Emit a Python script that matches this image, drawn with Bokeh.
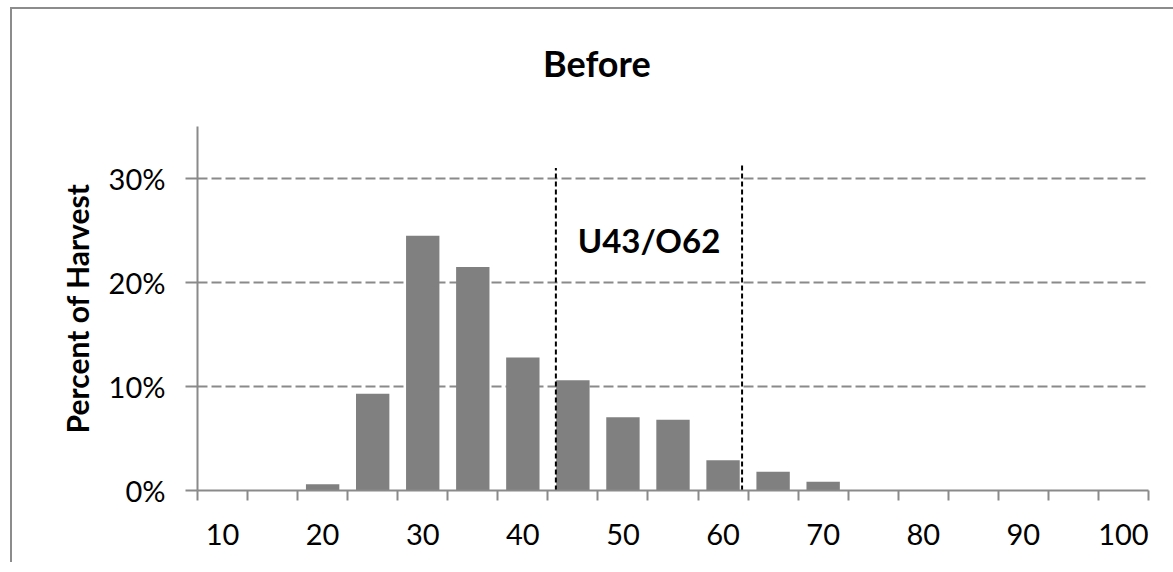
from bokeh.plotting import figure
from bokeh.layouts import column
from bokeh.models import Range1d, FixedTicker, NumeralTickFormatter, Label, Div
from bokeh.embed import file_html
from bokeh.resources import INLINE

# ---- data ----
lengths = [10, 15, 20, 25, 30, 35, 40, 45, 50, 55, 60, 65, 70, 75, 80, 85, 90, 95, 100]
percent = [0.0, 0.0, 0.006, 0.093, 0.245, 0.215, 0.128, 0.106, 0.0705, 0.068, 0.029, 0.018, 0.0085,
           0.0, 0.0, 0.0, 0.0, 0.0, 0.0]
tick_labels = [10, 20, 30, 40, 50, 60, 70, 80, 90, 100]
y_ticks = [0.0, 0.1, 0.2, 0.3]
limit_x = [43.3, 61.9]
limit_top = [0.31, 0.314]
limit_text = "U43/O62"
title_text = "Before"
y_title = "Percent of Harvest"

step = 5
bar_width = step * 2 / 3
boundaries = [v - step / 2 for v in lengths] + [lengths[-1] + step / 2]

GRAY = "#8a8a8a"
FONT = "Lato"

head = Div(text=title_text, width=1153, height=100,
           styles={"font-family": "Lato", "font-weight": "bold", "font-size": "36px",
                   "line-height": "98px", "text-indent": "526px", "color": "black",
                   "white-space": "nowrap", "background-color": "white"})

p = figure(width=1153, height=443, output_backend="svg", toolbar_location=None,
           x_range=Range1d(boundaries[0], boundaries[-1]), y_range=Range1d(0, 0.35),
           min_border_left=185, min_border_right=17, min_border_top=7, min_border_bottom=72,
           title=None)
p.outline_line_color = None
p.background_fill_color = "white"
p.border_fill_color = "white"

# grid
p.xgrid.visible = False
p.ygrid.ticker = FixedTicker(ticks=y_ticks[1:])
p.ygrid.grid_line_color = GRAY
p.ygrid.grid_line_width = 2
p.ygrid.grid_line_dash = "10 4"

# bars
p.vbar(x=lengths, top=percent, width=bar_width, bottom=0, fill_color="#808080", line_color=None)

# limit lines
p.segment(x0=limit_x, y0=[0, 0], x1=limit_x, y1=limit_top, line_color="black",
          line_width=2, line_dash="5 3")

# x axis
xa = p.xaxis[0]
xa.ticker = FixedTicker(ticks=tick_labels, minor_ticks=boundaries)
xa.axis_line_color = GRAY
xa.axis_line_width = 2
xa.major_tick_out = 0
xa.major_tick_in = 0
xa.minor_tick_out = 10
xa.minor_tick_in = 0
xa.minor_tick_line_color = GRAY
xa.minor_tick_line_width = 2
xa.major_label_text_font = FONT
xa.major_label_text_font_size = "29px"
xa.major_label_text_color = "black"
xa.major_label_standoff = 23

# y axis
ya = p.yaxis[0]
ya.ticker = FixedTicker(ticks=y_ticks, minor_ticks=[])
ya.formatter = NumeralTickFormatter(format="0%")
ya.axis_line_color = GRAY
ya.axis_line_width = 2
ya.major_tick_out = 12
ya.major_tick_in = 0
ya.major_tick_line_color = GRAY
ya.major_tick_line_width = 2
ya.minor_tick_line_color = None
ya.major_label_text_font = FONT
ya.major_label_text_font_size = "29px"
ya.major_label_text_color = "black"
ya.major_label_standoff = 20
ya.axis_label = y_title
ya.axis_label_text_font = FONT
ya.axis_label_text_font_style = "bold"
ya.axis_label_text_font_size = "30px"
ya.axis_label_text_color = "black"
ya.axis_label_standoff = 11

# annotation inside the plot
p.add_layout(Label(x=sum(limit_x) / 2, y=0.241, text=limit_text, text_align="center",
                   text_baseline="alphabetic", text_font=FONT, text_font_style="bold",
                   text_font_size="33px", text_color="black"))

layout = column(head, p, spacing=0)
layout.margin = (7, 0, 0, 10)
layout.styles = {"border-left": "2px solid #8c8c8c", "border-top": "2px solid #8c8c8c",
                 "background-color": "white"}

open("out.html", "w").write(file_html(layout, INLINE))
